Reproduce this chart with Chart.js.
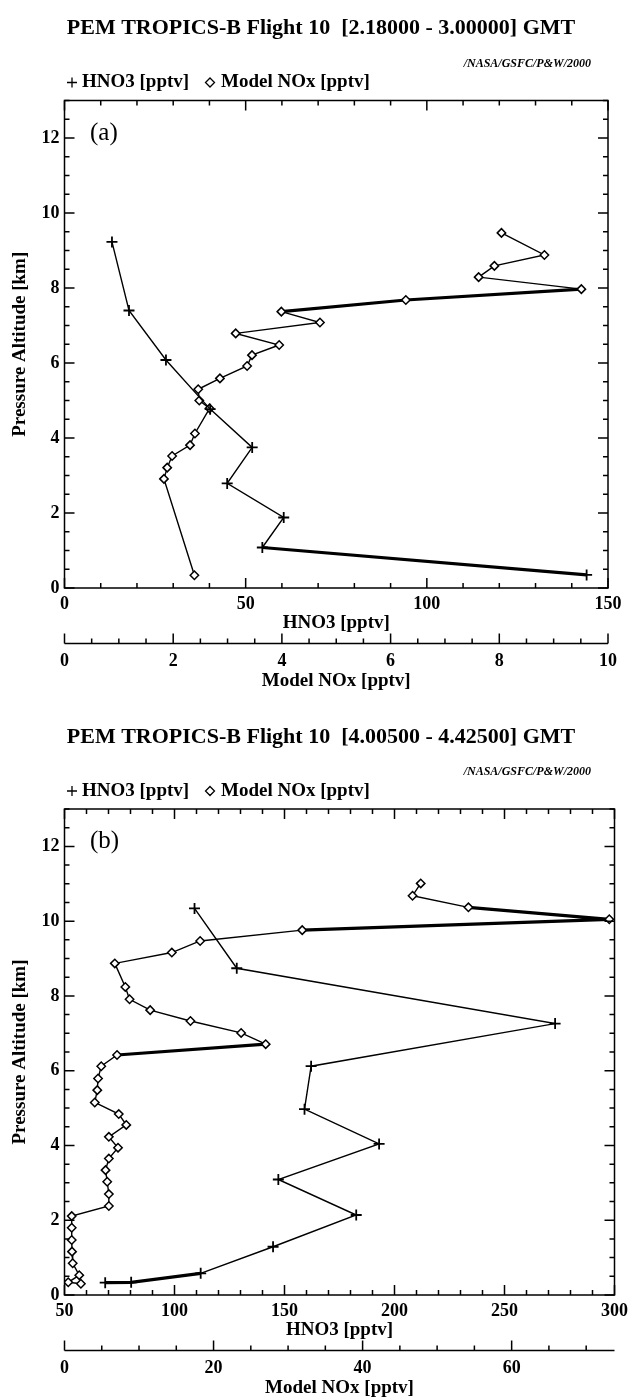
<!DOCTYPE html>
<html>
<head>
<meta charset="utf-8">
<title>PEM TROPICS-B Flight 10</title>
<script src="https://cdn.jsdelivr.net/npm/chart.js@4.4.1/dist/chart.umd.min.js"></script>
<style>
  html, body { margin: 0; padding: 0; background: #fff; }
  canvas { display: block; }
</style>
</head>
<body>
<canvas id="chartA" width="634" height="700"></canvas>
<canvas id="chartB" width="634" height="699"></canvas>
<script>
// panel (a) 2.18000 - 3.00000 GMT
const hno3ValA = [13.1, 17.8, 28.0, 40.2, 51.8, 44.9, 60.5, 54.6, 144.1];
const hno3AltA = [9.23, 7.40, 6.08, 4.77, 3.75, 2.79, 1.88, 1.08, 0.35];
const noxValA = [8.04, 8.83, 7.91, 7.62, 9.51, 6.28, 3.99, 4.70, 3.15, 3.95, 3.45, 3.36, 2.86, 2.46, 2.48, 2.67, 2.40, 2.31, 1.98, 1.89, 1.83, 2.39];
const noxAltA = [9.47, 8.88, 8.59, 8.29, 7.97, 7.68, 7.37, 7.08, 6.79, 6.48, 6.21, 5.92, 5.59, 5.30, 5.00, 4.79, 4.12, 3.81, 3.52, 3.21, 2.91, 0.34];

// panel (b) 4.00500 - 4.42500 GMT
const hno3ValB = [109.1, 128.3, 273.0, 162.1, 159.1, 193.0, 147.2, 182.6, 144.8, 111.9, 80.3, 68.5];
const hno3AltB = [10.34, 8.74, 7.26, 6.12, 4.97, 4.04, 3.09, 2.14, 1.29, 0.58, 0.34, 0.33];
const noxValB = [47.8, 46.7, 54.2, 73.1, 31.9, 18.2, 14.4, 6.75, 8.16, 8.73, 11.5, 16.9, 23.7, 27.0, 7.05, 4.93, 4.50, 4.40, 4.06, 7.28, 8.29, 5.95, 7.18, 5.95, 5.51, 5.73, 5.95, 5.95, 0.97, 0.97, 0.97, 1.01, 1.10, 1.98, 0.50, 2.20];
const noxAltB = [11.01, 10.68, 10.37, 10.05, 9.76, 9.47, 9.16, 8.87, 8.24, 7.91, 7.62, 7.33, 7.01, 6.71, 6.42, 6.12, 5.79, 5.48, 5.15, 4.84, 4.55, 4.23, 3.94, 3.65, 3.34, 3.03, 2.70, 2.38, 2.11, 1.80, 1.47, 1.16, 0.85, 0.53, 0.34, 0.30];

// tick labels
const altTicks = [0, 2, 4, 6, 8, 10, 12];
const hno3TicksA = [0, 50, 100, 150];
const noxTicksA = [0, 2, 4, 6, 8, 10];
const hno3TicksB = [50, 100, 150, 200, 250, 300];
const noxTicksB = [0, 20, 40, 60];

const SERIF = '"Liberation Serif", "Times New Roman", serif';

const onStep = (v, m) => Math.abs(v / m - Math.round(v / m)) < 1e-6;

// frame, inward ticks, second x axis line, titles and legend
const framePlugin = {
  id: 'frame',
  afterDraw(chart, args, o) {
    const { ctx, chartArea: a } = chart;
    const x = chart.scales.x, y = chart.scales.y, x2 = chart.scales.x2;
    ctx.save();
    ctx.strokeStyle = '#000';
    ctx.fillStyle = '#000';
    ctx.lineWidth = 1.5;
    ctx.strokeRect(a.left, a.top, a.right - a.left, a.bottom - a.top);

    ctx.beginPath();
    for (let v = x.min; v <= x.max + 1e-6; v += o.xStep) {
      const p = x.getPixelForValue(v);
      const len = onStep(v, o.xMajor) ? 10 : 5;
      ctx.moveTo(p, a.bottom); ctx.lineTo(p, a.bottom - len);
      ctx.moveTo(p, a.top); ctx.lineTo(p, a.top + len);
    }
    for (let v = y.min; v <= y.max + 1e-6; v += o.yStep) {
      const p = y.getPixelForValue(v);
      const len = onStep(v, o.yMajor) ? 10 : 5;
      ctx.moveTo(a.left, p); ctx.lineTo(a.left + len, p);
      ctx.moveTo(a.right, p); ctx.lineTo(a.right - len, p);
    }
    const ly = x2.top + 9.5;
    ctx.moveTo(x2.left, ly); ctx.lineTo(x2.right, ly);
    for (let v = x2.min; v <= x2.max + 1e-6; v += o.x2Step) {
      const p = x2.getPixelForValue(v);
      const len = onStep(v, o.x2Major) ? 10 : 5;
      ctx.moveTo(p, ly); ctx.lineTo(p, ly - len);
    }
    ctx.stroke();

    ctx.textBaseline = 'middle';
    ctx.textAlign = 'center';
    ctx.font = 'bold 22px ' + SERIF;
    ctx.fillText(o.title, chart.width / 2 + 4, a.top - 72);

    ctx.textAlign = 'right';
    ctx.font = 'italic bold 12px ' + SERIF;
    ctx.fillText('/NASA/GSFC/P&W/2000', 591, a.top - 37);

    // legend
    const gy = a.top - 18;
    ctx.beginPath();
    ctx.moveTo(67, gy); ctx.lineTo(77, gy);
    ctx.moveTo(72, gy - 5); ctx.lineTo(72, gy + 5);
    ctx.moveTo(210, gy - 4.5); ctx.lineTo(214.5, gy); ctx.lineTo(210, gy + 4.5); ctx.lineTo(205.5, gy); ctx.closePath();
    ctx.lineWidth = 1.3;
    ctx.stroke();
    ctx.textAlign = 'left';
    ctx.font = 'bold 19px ' + SERIF;
    ctx.fillText('HNO3 [pptv]', 82, gy);
    ctx.fillText('Model NOx [pptv]', 221, gy);

    ctx.font = '25px ' + SERIF;
    ctx.fillText(o.letter, 90, a.top + 32.5);
    ctx.restore();
  }
};

const tickFont = { family: SERIF, size: 18, weight: 'bold' };
const titleFont = { family: SERIF, size: 19, weight: 'bold' };

const makeChart = (id, p) => {
  const canvas = document.getElementById(id);
  return new Chart(canvas.getContext('2d'), {
    type: 'scatter',
    data: {
      datasets: [
        {
          label: 'HNO3 [pptv]',
          data: p.hno3Val.map((v, i) => ({ x: v, y: p.hno3Alt[i] })),
          xAxisID: 'x',
          yAxisID: 'y',
          showLine: true,
          borderColor: '#000',
          backgroundColor: '#000',
          borderWidth: 1.4,
          pointStyle: 'cross',
          pointRadius: 5.5,
          pointBorderWidth: 1.8,
          segment: { borderWidth: c => p.hno3Thick.includes(c.p0DataIndex) ? 3.2 : 1.4 }
        },
        {
          label: 'Model NOx [pptv]',
          data: p.noxVal.map((v, i) => ({ x: v, y: p.noxAlt[i] })),
          xAxisID: 'x2',
          yAxisID: 'y',
          showLine: true,
          borderColor: '#000',
          backgroundColor: '#fff',
          borderWidth: 1.4,
          pointStyle: 'rectRot',
          pointRadius: 4.2,
          pointBorderWidth: 1.5,
          segment: { borderWidth: c => p.noxThick.includes(c.p0DataIndex) ? 3.2 : 1.4 }
        }
      ]
    },
    options: {
      responsive: false,
      animation: false,
      events: [],
      layout: { autoPadding: false, padding: { left: 0, right: 11, top: p.top, bottom: p.bottom } },
      plugins: {
        legend: { display: false },
        tooltip: { enabled: false },
        frame: {
          title: p.title, letter: p.letter,
          xStep: 10, xMajor: 50, yStep: 0.5, yMajor: 2,
          x2Step: p.x2Step, x2Major: p.x2Major
        }
      },
      scales: {
        x: {
          type: 'linear', position: 'bottom', weight: 0,
          min: p.xMin, max: p.xMax,
          afterBuildTicks: s => { s.ticks = p.xTicks.map(v => ({ value: v })); },
          afterFit: s => { s.height = 46; },
          grid: { display: false, drawTicks: false },
          border: { display: false },
          ticks: { font: tickFont, color: '#000', padding: 6, maxRotation: 0 },
          title: { display: true, text: 'HNO3 [pptv]', font: titleFont, color: '#000', padding: { top: 0, bottom: 0 } }
        },
        x2: {
          type: 'linear', position: 'bottom', weight: 1,
          min: 0, max: p.x2Max,
          afterBuildTicks: s => { s.ticks = p.x2Ticks.map(v => ({ value: v })); },
          afterFit: s => { s.height = 58; },
          grid: { display: false, drawTicks: false },
          border: { display: false },
          ticks: { font: tickFont, color: '#000', padding: 17, maxRotation: 0 },
          title: { display: true, text: 'Model NOx [pptv]', font: titleFont, color: '#000', padding: { top: 0, bottom: 0 } }
        },
        y: {
          type: 'linear', position: 'left',
          min: 0, max: 13,
          afterBuildTicks: s => { s.ticks = altTicks.map(v => ({ value: v })); },
          afterFit: s => { s.width = 64.5; },
          grid: { display: false, drawTicks: false },
          border: { display: false },
          ticks: { font: tickFont, color: '#000', padding: 5 },
          title: { display: true, text: 'Pressure Altitude [km]', font: titleFont, color: '#000', padding: { top: 9, bottom: 0 } }
        }
      }
    },
    plugins: [framePlugin]
  });
};

makeChart('chartA', {
  title: 'PEM TROPICS-B Flight 10  [2.18000 - 3.00000] GMT', letter: '(a)',
  hno3Val: hno3ValA, hno3Alt: hno3AltA, noxVal: noxValA, noxAlt: noxAltA,
  hno3Thick: [7], noxThick: [4, 5],
  xMin: 0, xMax: 150, xTicks: hno3TicksA,
  x2Max: 10, x2Ticks: noxTicksA, x2Step: 0.5, x2Major: 2,
  top: 100.5, bottom: 8
});

makeChart('chartB', {
  title: 'PEM TROPICS-B Flight 10  [4.00500 - 4.42500] GMT', letter: '(b)',
  hno3Val: hno3ValB, hno3Alt: hno3AltB, noxVal: noxValB, noxAlt: noxAltB,
  hno3Thick: [9, 10], noxThick: [2, 3, 13],
  xMin: 50, xMax: 300, xTicks: hno3TicksB,
  x2Max: 73.8, x2Ticks: noxTicksB, x2Step: 5, x2Major: 20,
  top: 109, bottom: 0
});
</script>
</body>
</html>
